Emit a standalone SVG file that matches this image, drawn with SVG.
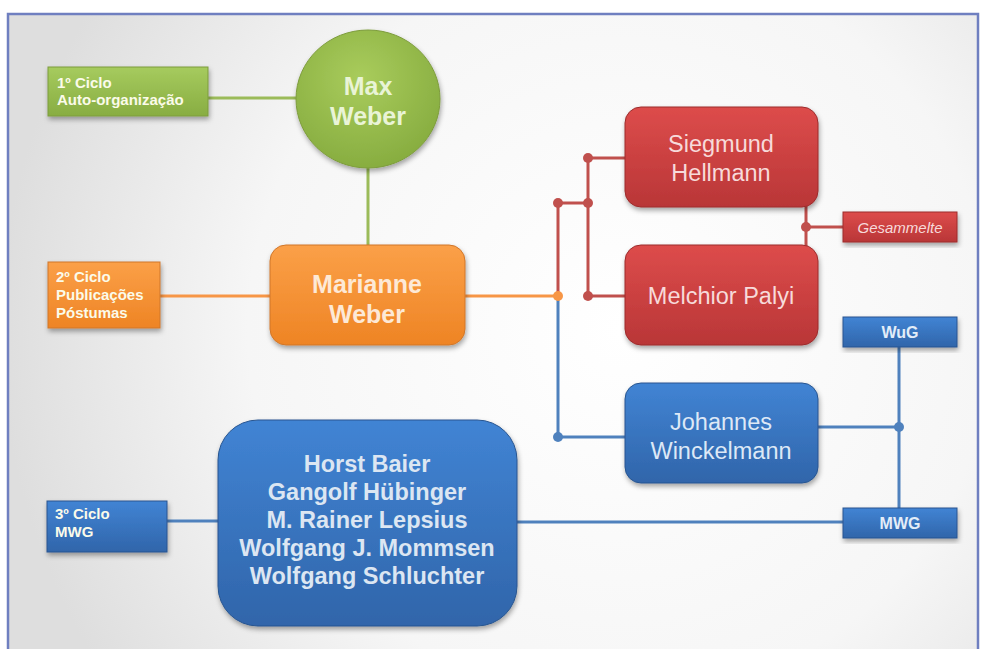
<svg xmlns="http://www.w3.org/2000/svg" width="982" height="649" viewBox="0 0 982 649">
<defs>
<radialGradient id="bg" cx="620" cy="330" r="620" gradientUnits="userSpaceOnUse">
<stop offset="0" stop-color="#ffffff"/>
<stop offset="0.6" stop-color="#f6f6f6"/>
<stop offset="1" stop-color="#dedede"/>
</radialGradient>
<linearGradient id="gG" x1="0" y1="0" x2="0" y2="1"><stop offset="0" stop-color="#a6cb5e"/><stop offset="1" stop-color="#88ad42"/></linearGradient>
<radialGradient id="gC" cx="0.45" cy="0.35" r="0.7"><stop offset="0" stop-color="#a9cc5c"/><stop offset="1" stop-color="#85ab3e"/></radialGradient>
<linearGradient id="gO" x1="0" y1="0" x2="0" y2="1"><stop offset="0" stop-color="#fba048"/><stop offset="1" stop-color="#ee8424"/></linearGradient>
<linearGradient id="gR" x1="0" y1="0" x2="0" y2="1"><stop offset="0" stop-color="#dd4c4b"/><stop offset="1" stop-color="#b93637"/></linearGradient>
<linearGradient id="gB" x1="0" y1="0" x2="0" y2="1"><stop offset="0" stop-color="#4184d4"/><stop offset="1" stop-color="#3065aa"/></linearGradient>
<filter id="sh" x="-10%" y="-10%" width="125%" height="130%"><feDropShadow dx="1" dy="3" stdDeviation="2.5" flood-color="#000" flood-opacity="0.35"/></filter>
</defs>
<style>
.ln{fill:none;stroke-width:3}
.g{stroke:#9bbb59}.o{stroke:#f79646}.r{stroke:#c0504d}.b{stroke:#4f81bd}
.lbl{font-family:"Liberation Sans",Arial,sans-serif;font-weight:bold;font-size:15px;fill:#fbfbea}
.big{font-family:"Liberation Sans",Arial,sans-serif;font-weight:bold;font-size:25px;text-anchor:middle}
.mid{font-family:"Liberation Sans",Arial,sans-serif;font-size:23.5px;text-anchor:middle}
.sm{font-family:"Liberation Sans",Arial,sans-serif;font-size:16px;text-anchor:middle;font-weight:bold;fill:#e3edf8}
</style>
<rect x="0" y="0" width="982" height="649" fill="#ffffff"/>
<rect x="8" y="14" width="970" height="640" fill="url(#bg)" stroke="#6f7fc0" stroke-width="2.5"/>

<g id="connectors">
<line class="ln g" x1="207" y1="98" x2="297" y2="98"/>
<line class="ln g" x1="368" y1="166" x2="368" y2="245"/>
<line class="ln o" x1="159" y1="296" x2="271" y2="296"/>
<line class="ln o" x1="464" y1="296" x2="558" y2="296"/>
<polyline class="ln r" points="558,296 558,203 588,203"/>
<line class="ln r" x1="588" y1="158" x2="588" y2="296"/>
<line class="ln r" x1="588" y1="158" x2="626" y2="158"/>
<line class="ln r" x1="588" y1="296" x2="626" y2="296"/>
<line class="ln r" x1="806" y1="206" x2="806" y2="246"/>
<line class="ln r" x1="806" y1="227" x2="844" y2="227"/>
<polyline class="ln b" points="558,297 558,437 626,437"/>
<line class="ln b" x1="899" y1="346" x2="899" y2="509"/>
<line class="ln b" x1="817" y1="427" x2="899" y2="427"/>
<line class="ln b" x1="166" y1="521" x2="219" y2="521"/>
<line class="ln b" x1="516" y1="522" x2="844" y2="522"/>
<g fill="#c0504d">
<circle cx="558" cy="203" r="5"/><circle cx="588" cy="203" r="5"/><circle cx="588" cy="158" r="5"/><circle cx="588" cy="296" r="5"/><circle cx="806" cy="227" r="5"/>
</g>
<circle cx="558" cy="296" r="5" fill="#f79646"/>
<g fill="#4f81bd"><circle cx="558" cy="437" r="5"/><circle cx="899" cy="427" r="5"/></g>
</g>

<g id="ciclo1">
<rect x="48" y="67" width="160" height="49" fill="url(#gG)" stroke="#7d9c3c" stroke-width="1" filter="url(#sh)"/>
<text class="lbl" x="57" y="88">1º Ciclo</text>
<text class="lbl" x="57" y="105">Auto-organização</text>
</g>
<g id="maxweber">
<ellipse cx="368" cy="99" rx="72" ry="69" fill="url(#gC)" stroke="#7d9c3c" stroke-width="1" filter="url(#sh)"/>
<text class="big" x="368" y="95" fill="#e9f4d6">Max</text>
<text class="big" x="368" y="125" fill="#e9f4d6">Weber</text>
</g>
<g id="ciclo2">
<rect x="48" y="262" width="112" height="66" fill="url(#gO)" stroke="#d0762a" stroke-width="1" filter="url(#sh)"/>
<text class="lbl" x="56" y="282">2º Ciclo</text>
<text class="lbl" x="56" y="300">Publicações</text>
<text class="lbl" x="56" y="318">Póstumas</text>
</g>
<g id="marianne">
<rect x="270" y="245" width="195" height="100" rx="16" fill="url(#gO)" stroke="#d0762a" stroke-width="1" filter="url(#sh)"/>
<text class="big" x="367" y="293" fill="#fde9d6" font-size="28">Marianne</text>
<text class="big" x="367" y="323" fill="#fde9d6" font-size="28">Weber</text>
</g>
<g id="hellmann">
<rect x="625" y="107" width="193" height="100" rx="16" fill="url(#gR)" stroke="#9c2c2c" stroke-width="1" filter="url(#sh)"/>
<text class="mid" x="721" y="152" fill="#f7dada">Siegmund</text>
<text class="mid" x="721" y="181" fill="#f7dada">Hellmann</text>
</g>
<g id="palyi">
<rect x="625" y="245" width="193" height="100" rx="16" fill="url(#gR)" stroke="#9c2c2c" stroke-width="1" filter="url(#sh)"/>
<text class="mid" x="721" y="304" fill="#f7dada">Melchior Palyi</text>
</g>
<g id="gesammelte">
<rect x="843" y="212" width="114" height="30" fill="url(#gR)" stroke="#9c2c2c" stroke-width="1" filter="url(#sh)"/>
<text x="900" y="233" text-anchor="middle" font-family="Liberation Sans, Arial, sans-serif" font-size="15" font-style="italic" fill="#f7dada">Gesammelte</text>
</g>
<g id="wug">
<rect x="843" y="317" width="114" height="30" fill="url(#gB)" stroke="#285590" stroke-width="1" filter="url(#sh)"/>
<text class="sm" x="900" y="338">WuG</text>
</g>
<g id="winckelmann">
<rect x="625" y="383" width="193" height="100" rx="16" fill="url(#gB)" stroke="#285590" stroke-width="1" filter="url(#sh)"/>
<text class="mid" x="721" y="430" fill="#dde8f6">Johannes</text>
<text class="mid" x="721" y="459" fill="#dde8f6">Winckelmann</text>
</g>
<g id="mwg">
<rect x="843" y="508" width="114" height="30" fill="url(#gB)" stroke="#285590" stroke-width="1" filter="url(#sh)"/>
<text class="sm" x="900" y="529">MWG</text>
</g>
<g id="ciclo3">
<rect x="47" y="501" width="120" height="51" fill="url(#gB)" stroke="#285590" stroke-width="1" filter="url(#sh)"/>
<text class="lbl" x="55" y="519" fill="#e3edf8">3º Ciclo</text>
<text class="lbl" x="55" y="537" fill="#e3edf8">MWG</text>
</g>
<g id="editores">
<rect x="218" y="420" width="299" height="206" rx="40" fill="url(#gB)" stroke="#285590" stroke-width="1" filter="url(#sh)"/>
<g font-family="Liberation Sans, Arial, sans-serif" font-weight="bold" font-size="23.5" text-anchor="middle" fill="#dce6f2">
<text x="367" y="472">Horst Baier</text>
<text x="367" y="500">Gangolf Hübinger</text>
<text x="367" y="528">M. Rainer Lepsius</text>
<text x="367" y="556">Wolfgang J. Mommsen</text>
<text x="367" y="584">Wolfgang Schluchter</text>
</g>
</g>
</svg>
